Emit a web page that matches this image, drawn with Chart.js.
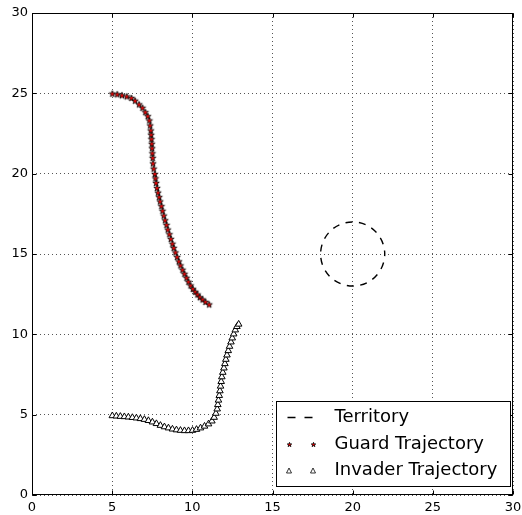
<!DOCTYPE html>
<html>
<head>
<meta charset="utf-8">
<script src="https://cdn.jsdelivr.net/npm/chart.js@4/dist/chart.umd.min.js"></script>
<style>
  html, body { margin: 0; padding: 0; background: #ffffff; }
  #wrap { width: 522px; height: 515px; }
</style>
</head>
<body>
<div id="wrap"><canvas id="c" width="522" height="515"></canvas></div>
<script>
// Axis ticks
const xTicks = [0, 5, 10, 15, 20, 25, 30];
const yTicks = [0, 5, 10, 15, 20, 25, 30];

// Guard trajectory (x, y)
const guardX = [5.01, 5.32, 5.61, 5.91, 6.20, 6.43, 6.68, 6.89, 7.07, 7.22, 7.32, 7.37, 7.41, 7.43, 7.45, 7.47, 7.49, 7.51, 7.53, 7.55, 7.59, 7.66, 7.70, 7.74, 7.80, 7.86, 7.93, 7.99, 8.07, 8.14, 8.22, 8.30, 8.39, 8.47, 8.57, 8.66, 8.76, 8.84, 8.95, 9.05, 9.16, 9.26, 9.39, 9.51, 9.64, 9.76, 9.89, 10.03, 10.18, 10.32, 10.47, 10.64, 10.82, 11.05];
const guardY = [24.98, 24.94, 24.88, 24.81, 24.71, 24.54, 24.31, 24.10, 23.83, 23.58, 23.31, 23.00, 22.69, 22.42, 22.15, 21.86, 21.58, 21.27, 20.98, 20.64, 20.31, 19.98, 19.71, 19.42, 19.11, 18.82, 18.54, 18.27, 17.98, 17.69, 17.39, 17.10, 16.81, 16.52, 16.23, 15.94, 15.64, 15.38, 15.10, 14.81, 14.54, 14.29, 14.02, 13.77, 13.52, 13.27, 13.04, 12.83, 12.65, 12.48, 12.31, 12.17, 12.02, 11.86];

// Invader trajectory (x, y)
const invaderX = [5.01, 5.26, 5.51, 5.76, 6.01, 6.26, 6.51, 6.76, 7.01, 7.26, 7.51, 7.76, 8.01, 8.26, 8.51, 8.76, 9.01, 9.26, 9.51, 9.76, 10.01, 10.26, 10.51, 10.76, 11.01, 11.22, 11.36, 11.47, 11.55, 11.59, 11.63, 11.68, 11.72, 11.76, 11.80, 11.84, 11.90, 11.97, 12.03, 12.09, 12.16, 12.24, 12.32, 12.41, 12.49, 12.58, 12.68, 12.78, 12.89];
const invaderY = [4.93, 4.91, 4.89, 4.87, 4.85, 4.82, 4.79, 4.75, 4.70, 4.63, 4.54, 4.44, 4.33, 4.24, 4.17, 4.10, 4.05, 4.02, 4.00, 4.00, 4.02, 4.08, 4.17, 4.28, 4.42, 4.60, 4.83, 5.08, 5.35, 5.62, 5.90, 6.19, 6.48, 6.77, 7.06, 7.35, 7.63, 7.90, 8.17, 8.44, 8.71, 8.98, 9.25, 9.52, 9.77, 10.02, 10.27, 10.48, 10.63];

// Territory circle
const territoryCenter = [20, 15];
const territoryRadius = 2;

const legendLabels = ['Territory', 'Guard Trajectory', 'Invader Trajectory'];

const FONT = '"DejaVu Sans", "Liberation Sans", sans-serif';

// Five-pointed star sprite, red with a black edge
function makeStar(scale) {
  const s = Math.ceil(10 * scale);
  const cv = document.createElement('canvas');
  cv.width = s; cv.height = s;
  const g = cv.getContext('2d');
  const c = s / 2, ro = 3.4 * scale, ri = 1.4 * scale;
  g.beginPath();
  for (let i = 0; i < 10; i++) {
    const r = i % 2 === 0 ? ro : ri;
    const a = -Math.PI / 2 + i * Math.PI / 5;
    const px = c + r * Math.cos(a), py = c + 0.3 * scale + r * Math.sin(a);
    if (i === 0) g.moveTo(px, py); else g.lineTo(px, py);
  }
  g.closePath();
  g.fillStyle = '#ee0000';
  g.fill();
  g.lineWidth = 0.8;
  g.strokeStyle = '#000000';
  g.stroke();
  return cv;
}
const starSprite = makeStar(1);
const starSmall = makeStar(0.7);

const toPoints = (xs, ys) => xs.map((x, i) => ({ x: x, y: ys[i] }));

// Frame, inward ticks, territory circle and legend box
const decorations = {
  id: 'decorations',
  afterDatasetsDraw(chart) {
    const ctx = chart.ctx;
    const xs = chart.scales.x, ys = chart.scales.y;
    const a = chart.chartArea;
    const L = Math.round(a.left) + 0.5, R = Math.round(a.right) - 0.5;
    const T = Math.round(a.top) + 0.5, B = Math.round(a.bottom) - 0.5;

    // territory
    const cx = xs.getPixelForValue(territoryCenter[0]);
    const cy = ys.getPixelForValue(territoryCenter[1]);
    const r = xs.getPixelForValue(territoryCenter[0] + territoryRadius) - cx;
    ctx.save();
    ctx.beginPath();
    ctx.setLineDash([7, 6.5]);
    ctx.lineDashOffset = 3.5;
    ctx.lineWidth = 1.4;
    ctx.strokeStyle = '#000000';
    ctx.arc(cx, cy, r, 0, -2 * Math.PI, true);
    ctx.stroke();
    ctx.restore();

    // inward ticks
    ctx.save();
    ctx.strokeStyle = '#000000';
    ctx.lineWidth = 1;
    ctx.beginPath();
    xTicks.forEach(v => {
      const p = Math.round(xs.getPixelForValue(v)) + 0.5;
      ctx.moveTo(p, B); ctx.lineTo(p, B - 4);
      ctx.moveTo(p, T); ctx.lineTo(p, T + 4);
    });
    yTicks.forEach(v => {
      const p = Math.round(ys.getPixelForValue(v)) + 0.5;
      ctx.moveTo(L, p); ctx.lineTo(L + 4, p);
      ctx.moveTo(R, p); ctx.lineTo(R - 4, p);
    });
    ctx.stroke();
    ctx.strokeRect(L, T, R - L, B - T);
    ctx.restore();
  },
  afterDraw(chart) {
    const ctx = chart.ctx;
    const a = chart.chartArea;
    // legend box, anchored to the lower right corner of the plot
    const bw = 234, bh = 85;
    const bx = Math.round(a.right) - 2.5 - bw, by = Math.round(a.bottom) - 8.5 - bh;
    ctx.save();
    ctx.fillStyle = '#ffffff';
    ctx.fillRect(bx, by, bw, bh);
    ctx.strokeStyle = '#000000';
    ctx.lineWidth = 1;
    ctx.strokeRect(bx, by, bw, bh);

    const m1 = bx + 12.5, m2 = bx + 36.5, tx = bx + 58;
    const rows = [by + 16, by + 43, by + 69];

    // Territory sample: dashed segment
    ctx.beginPath();
    ctx.lineWidth = 1.4;
    ctx.moveTo(bx + 11, rows[0]); ctx.lineTo(bx + 19, rows[0]);
    ctx.moveTo(bx + 28, rows[0]); ctx.lineTo(bx + 36, rows[0]);
    ctx.stroke();

    ctx.drawImage(starSmall, Math.round(m1 - starSmall.width / 2), Math.round(rows[1] - starSmall.height / 2));
    ctx.drawImage(starSmall, Math.round(m2 - starSmall.width / 2), Math.round(rows[1] - starSmall.height / 2));

    // small triangles
    ctx.lineWidth = 0.8;
    ctx.fillStyle = '#ffffff';
    [m1, m2].forEach(m => {
      ctx.beginPath();
      ctx.moveTo(m, rows[2] - 2.5);
      ctx.lineTo(m - 2.5, rows[2] + 2.5);
      ctx.lineTo(m + 2.5, rows[2] + 2.5);
      ctx.closePath();
      ctx.fill();
      ctx.stroke();
    });

    ctx.fillStyle = '#000000';
    ctx.font = '18px ' + FONT;
    ctx.textBaseline = 'middle';
    ctx.textAlign = 'left';
    legendLabels.forEach((t, i) => ctx.fillText(t, tx, rows[i]));
    ctx.restore();
  }
};

const tickFont = { family: FONT, size: 13 };

new Chart(document.getElementById('c'), {
  type: 'scatter',
  data: {
    datasets: [
      {
        label: legendLabels[1],
        data: toPoints(guardX, guardY),
        pointStyle: starSprite,
        showLine: false
      },
      {
        label: legendLabels[2],
        data: toPoints(invaderX, invaderY),
        pointStyle: 'triangle',
        pointRadius: 3.8,
        backgroundColor: '#ffffff',
        borderColor: '#000000',
        borderWidth: 1,
        showLine: false
      }
    ]
  },
  options: {
    responsive: false,
    animation: false,
    devicePixelRatio: 1,
    layout: { padding: { top: 13, right: 9, left: 0, bottom: 0 } },
    plugins: { legend: { display: false }, tooltip: { enabled: false } },
    scales: {
      x: {
        type: 'linear', min: 0, max: 30,
        afterFit(s) { s.height = 20; s.paddingLeft = 0; s.paddingRight = 0; },
        afterBuildTicks(s) { s.ticks = xTicks.map(v => ({ value: v })); },
        ticks: { font: tickFont, color: '#000000', padding: 5, maxRotation: 0 },
        grid: { color: '#555555', lineWidth: 1, drawTicks: false, tickLength: 0 },
        border: { display: false, dash: [1, 3] }
      },
      y: {
        type: 'linear', min: 0, max: 30,
        afterFit(s) { s.width = 32; s.paddingTop = 0; s.paddingBottom = 0; },
        afterBuildTicks(s) { s.ticks = yTicks.map(v => ({ value: v })); },
        ticks: { font: tickFont, color: '#000000', padding: 4 },
        grid: { color: '#555555', lineWidth: 1, drawTicks: false, tickLength: 0 },
        border: { display: false, dash: [1, 3] }
      }
    }
  },
  plugins: [decorations]
});
</script>
</body>
</html>
